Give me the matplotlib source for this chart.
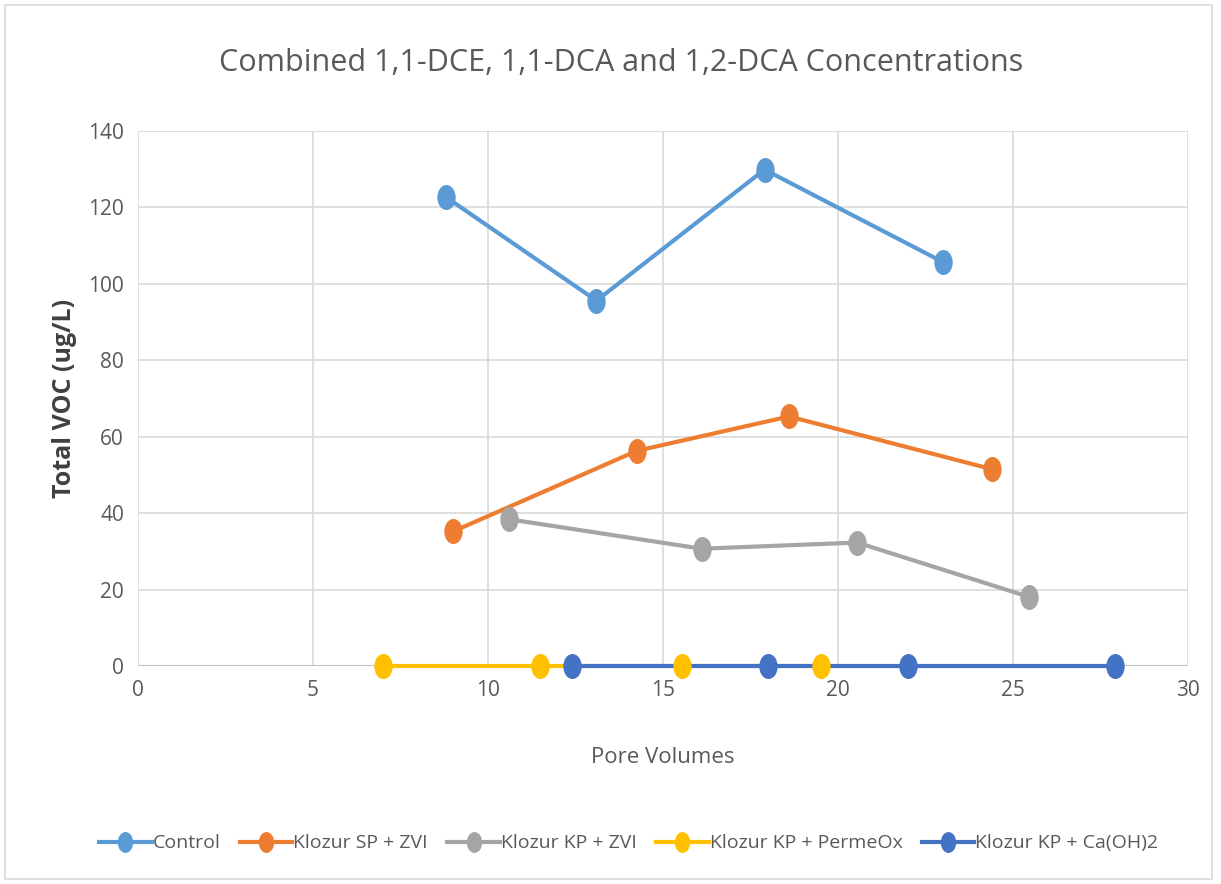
import matplotlib
matplotlib.use("Agg")
from matplotlib import pyplot as plt
from matplotlib.path import Path
from matplotlib.transforms import Affine2D
from matplotlib.lines import Line2D
from matplotlib.patches import Rectangle

plt.rcParams['font.family'] = ['Open Sans', 'DejaVu Sans']

# Data
control_x = [8.8, 13.1, 17.9, 23.0]
control_y = [122.7, 95.6, 129.9, 105.7]
sp_zvi_x = [9.0, 14.25, 18.6, 24.4]
sp_zvi_y = [35.2, 56.3, 65.3, 51.5]
kp_zvi_x = [10.6, 16.1, 20.55, 25.45]
kp_zvi_y = [38.4, 30.7, 32.3, 18.1]
kp_permeox_x = [7.0, 11.5, 15.55, 19.5]
kp_permeox_y = [0, 0, 0, 0]
kp_caoh_x = [12.4, 18.0, 22.0, 27.9]
kp_caoh_y = [0, 0, 0, 0]

series_names = ['Control', 'Klozur SP + ZVI', 'Klozur KP + ZVI',
                'Klozur KP + PermeOx', 'Klozur KP + Ca(OH)2']
series_colors = ['#5B9BD5', '#ED7D31', '#A5A5A5', '#FFC000', '#4472C4']

xs = [control_x, sp_zvi_x, kp_zvi_x, kp_permeox_x, kp_caoh_x]
ys = [control_y, sp_zvi_y, kp_zvi_y, kp_permeox_y, kp_caoh_y]

# squashed ellipse marker, like the original
ellipse = Path.unit_circle().transformed(Affine2D().scale(0.72, 1.0))

fig = plt.figure(figsize=(12.21, 8.84), dpi=100)
ax = fig.add_axes([0.113, 0.2466, 0.86, 0.6052])

# lines first, then markers on top of all lines
for i in range(len(series_names)):
    ax.plot(xs[i], ys[i], color=series_colors[i], lw=3, zorder=2 + i * 0.01,
            solid_capstyle='round', clip_on=False)
for i in range(len(series_names)):
    ax.plot(xs[i], ys[i], ls='none', marker=ellipse, ms=17,
            color=series_colors[i], zorder=3, clip_on=False)

ax.set_xlim(0, 30)
ax.set_ylim(0, 140)
ax.set_xticks(range(0, 31, 5))
ax.set_yticks(range(0, 141, 20))
ax.grid(True, color='#D9D9D9', lw=1.2)
ax.set_axisbelow(True)
for s in ax.spines.values():
    s.set_visible(False)
ax.axhline(0, color='#BFBFBF', lw=1.5, zorder=1)
ax.tick_params(length=0, labelsize=15, colors='#595959', pad=10)

ax.set_xlabel('Pore Volumes', fontsize=16, color='#595959', labelpad=33)
ax.set_ylabel('Total VOC (ug/L)', fontsize=18, color='#404040',
              fontweight='bold', labelpad=8)

fig.text(0.509, 0.929, 'Combined 1,1-DCE, 1,1-DCA and 1,2-DCA Concentrations',
         ha='center', va='center', fontsize=22, color='#595959')

handles = [Line2D([0], [0], color=c, lw=3, marker=ellipse, ms=14)
           for c in series_colors]
fig.legend(handles, series_names, loc='center', bbox_to_anchor=(0.515, 0.046),
           ncol=5, frameon=False, fontsize=14, handlelength=2.7,
           handletextpad=0.05, columnspacing=1.0, labelcolor='#595959')

# outer chart border
fig.patches.append(Rectangle((0.004, 0.006), 0.989, 0.988, transform=fig.transFigure,
                             fill=False, edgecolor='#D9D9D9', lw=1.2))

fig.savefig('out.png', dpi=100)
